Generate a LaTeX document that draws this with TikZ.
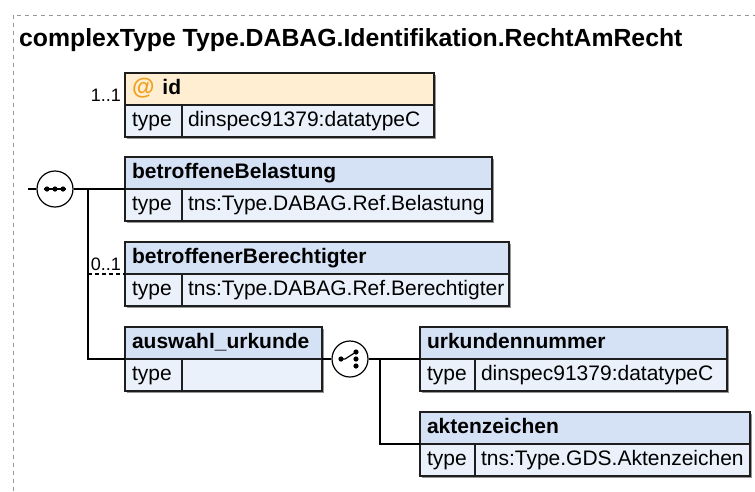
\documentclass[tikz,border=0pt]{standalone}
\usepackage{fontspec}
\setmainfont{Liberation Sans}
\usetikzlibrary{calc}
\definecolor{hdrblue}{RGB}{213,226,246}
\definecolor{rowblue}{RGB}{234,241,251}
\definecolor{hdrorange}{RGB}{255,238,210}
\definecolor{atorange}{RGB}{240,160,30}
\definecolor{shadowc}{RGB}{150,150,150}
\definecolor{framec}{RGB}{150,150,150}
\definecolor{edgec}{RGB}{30,30,30}
\tikzset{
  hdr/.style={draw=edgec, line width=1.2pt, fill=hdrblue, anchor=north west, inner xsep=7pt, inner ysep=0pt, outer sep=0pt,
    minimum height=32pt, text height=15pt, text depth=4pt, align=left, font=\fontsize{21}{24}\selectfont\bfseries},
  rowc/.style={draw=edgec, line width=1.2pt, fill=rowblue, anchor=north west, inner xsep=7pt, inner ysep=0pt, outer sep=0pt,
    minimum height=32pt, text height=15pt, text depth=4pt, align=left, font=\fontsize{21}{24}\selectfont},
  shadowbox/.style={fill=shadowc},
  conn/.style={draw=black, line width=1.2pt},
  optconn/.style={draw=black, line width=1.2pt, dash pattern=on 4pt off 3pt},
  compositor/.style={circle, draw=black, line width=1.2pt, fill=white, minimum size=36pt, inner sep=0pt},
  dotc/.style={fill=black},
  mult/.style={anchor=base east, inner sep=0pt, font=\fontsize{18}{20}\selectfont},
  framestyle/.style={draw=framec, line width=1pt, dash pattern=on 4pt off 4pt},
}
\begin{document}
\begin{tikzpicture}[x=1pt,y=-1pt]
\useasboundingbox (0,0) rectangle (755,491);
% frame
\draw[framestyle] (13,491) -- (13,15) -- (755,15);
% title
\node[anchor=base west, inner sep=0pt, font=\fontsize{24.8}{28}\selectfont\bfseries] (title) at (19,46) {complexType Type.DABAG.Identifikation.RechtAmRecht};

% id box
\fill[shadowbox] (127,75) rectangle (436,139);
\node[hdr, fill=hdrorange, minimum width=309pt, text width=295pt] (id) at (125,73) {{\color{atorange}\fontsize{23}{24}\selectfont @}\hspace{8pt}id};
\node[rowc, minimum width=57pt, text width=43pt] (id-t) at (125,105) {type};
\node[rowc, minimum width=252pt, inner xsep=6pt, text width=240pt] (id-v) at (182,105) {dinspec91379:datatypeC};
\node[mult] (m1) at (121,101) {1..1};

% betroffeneBelastung
\fill[shadowbox] (127,159) rectangle (494,223);
\node[hdr, minimum width=367pt, text width=353pt] (bB) at (125,157) {betroffeneBelastung};
\node[rowc, minimum width=57pt, text width=43pt] (bB-t) at (125,189) {type};
\node[rowc, minimum width=310pt, inner xsep=6pt, text width=298pt] (bB-v) at (182,189) {tns:Type.DABAG.Ref.Belastung};

% betroffenerBerechtigter
\fill[shadowbox] (127,244) rectangle (511,308);
\node[hdr, minimum width=384pt, text width=370pt] (bBer) at (125,242) {betroffenerBerechtigter};
\node[rowc, minimum width=57pt, text width=43pt] (bBer-t) at (125,274) {type};
\node[rowc, minimum width=327pt, inner xsep=6pt, text width=315pt] (bBer-v) at (182,274) {tns:Type.DABAG.Ref.Berechtigter};
\node[mult] (m2) at (121,270) {0..1};

% auswahl_urkunde
\fill[shadowbox] (127,329) rectangle (324,393);
\node[hdr, minimum width=197pt, text width=183pt] (aus) at (125,327) {auswahl\_urkunde};
\node[rowc, minimum width=57pt, text width=43pt] (aus-t) at (125,359) {type};
\node[rowc, minimum width=140pt, inner xsep=6pt, text width=128pt] (aus-v) at (182,359) {};

% urkundennummer
\fill[shadowbox] (422,329) rectangle (729,393);
\node[hdr, minimum width=307pt, text width=293pt] (urk) at (420,327) {urkundennummer};
\node[rowc, minimum width=55pt, text width=41pt] (urk-t) at (420,359) {type};
\node[rowc, minimum width=252pt, inner xsep=6pt, text width=240pt] (urk-v) at (475,359) {dinspec91379:datatypeC};

% aktenzeichen
\fill[shadowbox] (422,414) rectangle (752,478);
\node[hdr, minimum width=330pt, text width=316pt] (akt) at (420,412) {aktenzeichen};
\node[rowc, minimum width=55pt, text width=41pt] (akt-t) at (420,444) {type};
\node[rowc, minimum width=275pt, inner xsep=6pt, text width=263pt] (akt-v) at (475,444) {tns:Type.GDS.Aktenzeichen};

% sequence compositor
\node[compositor] (seq) at (55,189) {};
\coordinate (seqin) at (28,189);
\draw[conn] (seqin) -- (seq.west);
\draw[conn] ($(seq.center)+(-11,0)$) -- ($(seq.center)+(11,0)$);
\fill[dotc] ($(seq.center)+(-8,0)$) circle (2.6);
\fill[dotc] (seq.center) circle (2.6);
\fill[dotc] ($(seq.center)+(8,0)$) circle (2.6);
\draw[conn] (seq.east) -- (bB.south west);
\coordinate (v1) at (88,189);
\draw[conn] (v1) |- (aus.south west);
\draw[optconn] (bBer.south west -| v1) -- (bBer.south west);

% choice compositor
\node[compositor] (ch) at (350,359) {};
\draw[conn] (aus.south east) -- (ch.west);
\draw[conn] ($(ch.center)+(-9,0)$) -- ($(ch.center)+(-5,0)$) -- ($(ch.center)+(6,-7)$);
\fill[dotc] ($(ch.center)+(-9,0)$) circle (2.6);
\fill[dotc] ($(ch.center)+(6,-7)$) circle (2.6);
\fill[dotc] ($(ch.center)+(6,0)$) circle (2.6);
\fill[dotc] ($(ch.center)+(6,7)$) circle (2.6);
\draw[conn] (ch.east) -- (urk.south west);
\coordinate (v2) at (380,359);
\draw[conn] (v2) |- (akt.south west);
\end{tikzpicture}
\end{document}
